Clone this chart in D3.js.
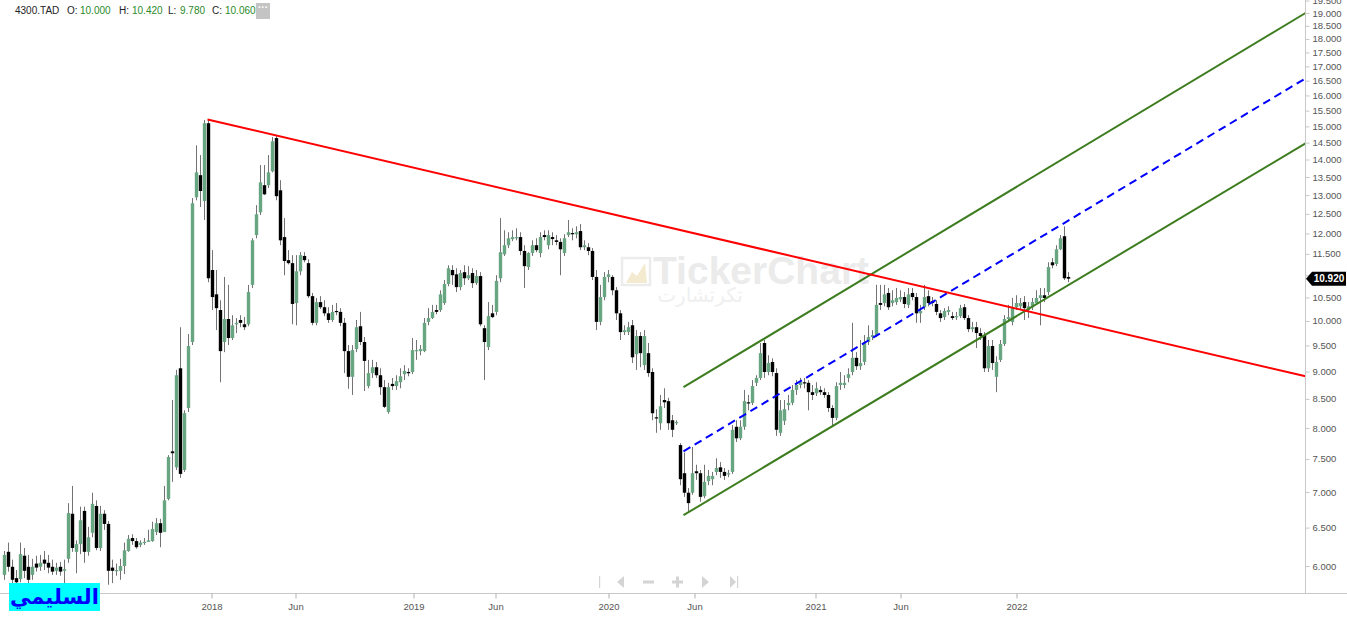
<!DOCTYPE html>
<html><head><meta charset="utf-8">
<script src="https://cdn.jsdelivr.net/npm/d3@7"></script>
<style>
html,body{margin:0;padding:0;background:#fff;overflow:hidden}
svg{display:block;font-family:"Liberation Sans",Arial,sans-serif}
</style></head><body>
<svg id="c" width="1347" height="617"></svg>
<script>
// ---- weekly OHLC, 4300.TAD ----
const open  = [5.89,6.18,5.99,5.85,5.84,6.13,5.99,5.89,6.03,5.99,6.08,6.04,5.99,5.94,5.99,5.94,6.09,6.69,6.18,6.28,6.73,6.18,6.43,6.80,6.23,6.69,6.55,5.98,5.94,5.94,6.00,6.19,6.36,6.32,6.27,6.30,6.31,6.32,6.44,6.56,6.44,6.90,7.62,7.37,9.06,7.33,8.34,9.57,12.94,13.55,12.84,15.10,11.12,10.57,10.23,9.57,10.04,9.65,9.93,10.02,9.93,9.93,10.78,11.96,12.54,13.27,13.27,13.66,14.64,13.13,11.91,11.35,11.28,10.38,11.09,11.45,11.28,10.53,9.96,10.40,10.29,10.16,10.02,10.21,10.19,9.96,9.39,8.90,9.43,9.89,9.57,8.73,8.97,9.08,8.93,8.71,8.27,8.77,8.73,8.80,8.95,8.99,8.99,9.39,9.39,9.39,9.98,10.06,10.23,10.23,10.38,10.80,11.12,11.02,10.73,11.07,10.93,11.05,10.82,10.98,9.85,9.47,10.16,10.19,10.93,11.49,11.71,11.86,11.88,11.91,11.57,11.19,11.52,11.71,11.52,11.96,11.71,11.91,11.83,11.79,11.52,11.96,12.01,11.98,12.06,11.66,11.66,11.57,10.96,9.98,10.51,10.96,10.96,10.66,10.16,9.77,9.77,9.91,9.33,9.69,9.12,9.35,8.99,8.18,8.08,8.48,8.46,8.13,8.08,7.72,7.28,6.99,6.99,7.31,7.28,6.94,7.16,7.19,7.30,7.37,7.30,7.27,7.30,8.02,7.83,8.02,8.44,8.43,8.79,8.88,9.55,8.99,9.18,8.97,7.92,8.12,8.39,8.43,8.66,8.75,8.80,8.79,8.62,8.60,8.66,8.62,8.57,8.34,8.17,8.75,8.75,8.88,8.99,9.26,9.10,9.18,9.57,9.67,9.71,10.38,10.38,10.60,10.38,10.40,10.46,10.51,10.34,10.60,10.51,10.16,10.29,10.53,10.42,10.36,10.16,10.08,10.19,10.10,10.08,10.10,10.29,10.06,9.83,9.87,9.75,9.71,9.06,9.49,8.90,9.22,9.53,10.04,9.98,10.29,10.31,10.40,10.23,10.29,10.38,10.49,10.55,10.62,11.30,11.26,11.61,11.93,10.96];
const high  = [6.19,6.30,6.08,5.95,6.30,6.23,6.14,6.09,6.13,6.14,6.19,6.14,6.08,6.04,6.05,6.08,6.84,7.09,6.33,6.79,6.79,6.51,6.99,6.88,6.80,6.74,6.59,6.08,6.03,6.09,6.30,6.40,6.41,6.36,6.33,6.36,6.47,6.58,6.63,6.62,7.09,7.56,8.48,9.03,9.87,8.30,9.73,12.92,14.42,14.13,15.20,15.23,11.59,11.12,10.44,10.96,10.78,10.12,10.06,10.12,10.08,10.78,11.88,12.73,13.84,13.84,14.13,14.67,14.70,13.41,12.39,11.59,11.47,11.47,11.54,11.54,11.37,10.60,10.49,10.53,10.44,10.29,10.34,10.38,10.27,10.06,9.51,9.51,10.02,10.19,9.67,9.22,9.22,9.18,9.06,8.84,8.79,8.88,8.93,9.06,9.12,9.06,9.65,9.61,9.51,10.06,10.27,10.34,10.34,10.66,10.89,11.23,11.23,11.16,11.12,11.23,11.21,11.16,11.12,11.07,9.91,10.40,10.34,11.00,12.39,12.08,12.03,12.08,12.13,12.03,11.71,11.54,11.83,11.88,12.03,12.08,12.08,12.03,11.96,11.88,11.98,12.34,12.13,12.18,12.24,11.83,11.76,11.64,11.12,10.78,11.07,11.12,11.00,10.73,10.23,9.91,9.98,10.02,9.81,9.77,9.81,9.55,9.06,8.32,8.57,8.69,8.52,8.22,8.13,7.75,7.60,7.06,7.69,7.41,7.33,7.41,7.33,7.30,7.51,7.45,7.36,7.33,8.05,8.13,8.13,8.66,8.57,8.84,8.93,9.55,9.61,9.31,9.25,9.06,8.48,8.48,8.57,8.75,8.84,8.88,8.88,8.84,8.75,8.80,8.73,8.69,8.62,8.39,8.80,8.99,8.93,9.06,9.96,9.37,9.61,9.71,9.91,9.81,10.78,10.78,10.78,10.71,10.66,10.71,10.66,10.62,10.71,10.71,10.60,10.34,10.78,10.66,10.51,10.44,10.23,10.27,10.31,10.19,10.19,10.34,10.36,10.12,9.98,9.98,9.85,9.77,9.61,9.61,9.29,9.61,10.12,10.34,10.49,10.55,10.49,10.53,10.40,10.49,10.66,10.71,10.71,11.30,11.40,11.71,11.96,12.18,11.07];
const low   = [5.83,5.93,5.79,5.73,5.80,5.85,5.77,5.83,5.93,5.94,5.95,5.91,5.89,5.89,5.88,5.71,6.04,6.18,5.91,6.15,6.04,6.13,6.37,6.20,6.19,6.47,5.77,5.79,5.88,5.83,5.90,6.18,6.27,6.22,6.24,6.27,6.31,6.31,6.40,6.24,6.44,6.88,7.15,7.33,7.21,7.30,8.27,9.51,12.86,12.68,12.34,10.84,10.23,9.81,8.80,9.37,9.51,9.61,9.75,9.87,9.81,9.89,10.71,11.88,12.47,13.00,13.19,13.63,12.86,11.71,11.00,11.25,9.93,9.91,11.00,11.30,10.49,9.91,9.91,10.25,10.10,9.96,9.98,10.12,9.89,8.97,8.68,8.57,9.37,9.51,8.64,8.69,8.88,8.88,8.57,8.34,8.24,8.66,8.66,8.69,8.84,8.91,8.95,9.22,9.31,9.37,9.91,10.04,10.14,10.19,10.34,10.75,10.78,10.62,10.66,10.78,10.89,10.71,10.78,9.89,8.84,9.41,10.06,10.12,10.84,11.45,11.64,11.81,11.83,11.47,10.71,11.12,11.45,11.54,11.42,11.83,11.61,11.71,11.71,11.00,11.45,11.91,11.83,11.88,11.59,11.59,11.47,10.89,9.81,9.91,10.44,10.84,10.55,10.02,9.61,9.71,9.71,9.16,9.03,9.08,9.03,8.90,8.13,7.92,7.97,8.34,7.97,7.85,8.05,7.10,6.93,6.71,6.96,7.18,6.86,6.91,7.10,7.10,7.25,7.21,7.18,7.22,7.27,7.77,7.80,7.97,8.30,8.39,8.73,8.84,8.88,8.93,8.91,7.87,7.87,8.05,8.30,8.39,8.57,8.69,8.69,8.30,8.48,8.55,8.57,8.52,8.27,8.03,8.13,8.66,8.69,8.80,8.93,9.03,9.03,9.12,9.51,9.61,9.67,10.23,10.31,10.23,10.31,10.34,10.40,10.27,10.27,10.44,9.96,9.96,10.23,10.31,10.31,10.12,9.98,10.02,10.12,10.02,10.02,10.06,10.02,9.77,9.77,9.45,9.61,8.99,8.99,9.03,8.62,9.18,9.49,9.98,9.91,10.23,10.23,10.02,10.06,10.23,10.34,9.91,10.40,10.55,11.16,11.21,11.59,10.89,10.84];
const close = [6.14,5.99,5.83,5.80,6.15,5.94,5.83,5.99,5.98,6.04,6.03,5.98,5.93,5.98,5.93,5.96,6.70,6.23,6.28,6.60,6.18,6.37,6.83,6.23,6.69,6.55,5.94,5.94,5.95,6.00,6.20,6.35,6.32,6.24,6.30,6.31,6.33,6.48,6.56,6.43,6.88,7.53,7.59,8.93,7.27,8.25,9.49,12.78,13.63,13.11,15.10,10.93,10.51,10.27,9.39,10.04,9.65,9.91,9.96,9.96,9.87,10.62,11.83,12.49,13.35,13.02,13.63,14.54,12.97,11.83,11.33,11.28,10.36,11.09,11.47,11.35,10.53,9.96,10.40,10.29,10.16,10.02,10.19,10.19,9.96,9.39,8.90,9.41,9.87,9.57,9.20,8.97,9.08,8.93,8.71,8.36,8.71,8.73,8.82,8.91,9.01,8.97,9.41,9.41,9.43,9.96,10.06,10.19,10.19,10.57,10.80,11.16,11.00,10.73,11.05,10.93,11.00,10.82,10.98,9.93,9.57,10.10,10.08,10.87,11.54,11.71,11.88,11.91,11.91,11.57,11.21,11.52,11.71,11.59,11.91,11.91,11.96,11.86,11.79,11.61,11.88,12.03,11.98,12.03,11.66,11.71,11.57,10.96,9.98,10.51,10.96,11.02,10.66,10.16,9.77,9.81,9.87,9.27,9.69,9.35,9.69,8.97,8.25,8.17,8.37,8.44,8.08,7.97,8.10,7.19,6.99,6.84,7.28,7.28,6.93,7.15,7.24,7.24,7.36,7.30,7.24,7.28,7.97,7.83,8.02,8.46,8.43,8.73,8.88,9.35,8.99,9.16,8.99,7.97,8.30,8.32,8.43,8.66,8.75,8.80,8.79,8.62,8.57,8.69,8.62,8.57,8.34,8.17,8.73,8.79,8.79,8.95,9.26,9.10,9.16,9.57,9.67,9.71,10.34,10.34,10.57,10.29,10.44,10.49,10.51,10.36,10.57,10.51,10.16,10.21,10.51,10.38,10.38,10.19,10.06,10.21,10.23,10.06,10.10,10.27,10.06,9.83,9.87,9.75,9.69,9.06,9.49,9.16,9.18,9.53,10.04,10.08,10.27,10.38,10.38,10.27,10.31,10.40,10.49,10.55,10.49,11.19,11.23,11.61,11.88,10.93,10.92];

// price axis ticks and time axis labels (bar index positions)
const priceTicks = [6.0,6.5,7.0,7.5,8.0,8.5,9.0,9.5,10.0,10.5,11.0,11.5,12.0,12.5,13.0,13.5,14.0,14.5,15.0,15.5,16.0,16.5,17.0,17.5,18.0,18.5,19.0,19.5];
const timeTickLabels = ["2018","Jun","2019","Jun","2020","Jun","2021","Jun","2022"];
const timeTickIndex  = [51.75,72.75,102.25,122.75,151,172.5,202.75,224,253];
const lastPrice = 10.92;

// drawn trend lines: [bar index, price]
const redLine    = [[50.75,15.22],[325.25,8.91]];
const upperGreen = [[169.75,8.71],[325.25,19.0]];
const lowerGreen = [[169.75,6.67],[325.25,14.48]];
const midBlue    = [[169.75,7.62],[325.25,16.58]];

// header (symbol + hovered bar)
const symbol = "4300.TAD";
const hoverLabels = ["O:","H:","L:","C:"];
const hoverValues = ["10.000","10.420","9.780","10.060"];

const svg = d3.select("#c");
const W = 1347, H = 617, axisX = 1305.5, axisY = 593.5;

const x = d3.scaleLinear().domain([0, 325.25]).range([4.5, axisX]);
const y = d3.scaleLog().domain([6, 19]).range([566, 13]);

svg.append("rect").attr("width", W).attr("height", H).attr("fill", "#fff");

svg.append("defs").append("clipPath").attr("id", "plot")
  .append("rect").attr("x", 0).attr("y", 0).attr("width", axisX).attr("height", axisY);

// watermark
const wm = svg.append("g");
wm.append("rect").attr("x", 622).attr("y", 258).attr("width", 28).attr("height", 27)
  .attr("fill", "none").attr("stroke", "#ececec").attr("stroke-width", 2.5);
wm.append("path").attr("d", "M626,283 L632,272 L637,276 L645,263 L647,283 Z").attr("fill", "#f4ead0");
wm.append("text").attr("x", 653).attr("y", 284).attr("font-size", 39).attr("font-weight", "bold")
  .attr("fill", "#ebebeb").text("TickerChart");
wm.append("text").attr("x", 700).attr("y", 302).attr("font-size", 20).attr("text-anchor", "middle")
  .attr("font-family", "DejaVu Sans").attr("fill", "#efefef").text("تكرتشارت");

// candles
const bars = d3.range(open.length).map(i => ({i, o: open[i], h: high[i], l: low[i], c: close[i]}));
const plot = svg.append("g").attr("clip-path", "url(#plot)");
const cg = plot.append("g");
cg.selectAll("line.wick").data(bars).join("line").attr("class", "wick")
  .attr("x1", d => x(d.i)).attr("x2", d => x(d.i))
  .attr("y1", d => y(d.h)).attr("y2", d => y(d.l))
  .attr("stroke", "#737373").attr("stroke-width", 1);
cg.selectAll("rect.body").data(bars).join("rect").attr("class", "body")
  .attr("x", d => x(d.i) - 1.7).attr("width", 3.4)
  .attr("y", d => y(Math.max(d.o, d.c)))
  .attr("height", d => Math.max(1.2, Math.abs(y(d.o) - y(d.c))))
  .attr("fill", d => d.c >= d.o ? "#68a682" : "#000");

// trend lines
const ln = d3.line().x(d => x(d[0])).y(d => y(d[1]));
plot.append("path").attr("d", ln(upperGreen)).attr("fill", "none").attr("stroke", "#3d7c1f").attr("stroke-width", 2);
plot.append("path").attr("d", ln(lowerGreen)).attr("fill", "none").attr("stroke", "#3d7c1f").attr("stroke-width", 2);
plot.append("path").attr("d", ln(midBlue)).attr("fill", "none").attr("stroke", "#0000ff").attr("stroke-width", 2)
  .attr("stroke-dasharray", "8,5");
plot.append("path").attr("d", ln(redLine)).attr("fill", "none").attr("stroke", "#ff0000").attr("stroke-width", 2);

// right price axis
const ya = svg.append("g").attr("transform", `translate(${axisX},0)`)
  .call(d3.axisRight(y).tickValues(priceTicks).tickFormat(d3.format(".3f")).tickSize(4).tickSizeOuter(0));
ya.select(".domain").remove();
ya.selectAll(".tick line").attr("stroke", "#c8c8c8");
ya.selectAll(".tick text").attr("fill", "#555").attr("font-size", 9.5)
  .attr("font-family", "Liberation Sans, Arial, sans-serif").attr("x", 7);
svg.append("line").attr("x1", axisX).attr("x2", axisX).attr("y1", 0).attr("y2", axisY)
  .attr("stroke", "#c8c8c8");

// bottom time axis
svg.append("line").attr("x1", 0).attr("x2", W).attr("y1", axisY).attr("y2", axisY).attr("stroke", "#c8c8c8");
const xa = svg.append("g").attr("transform", `translate(0,${axisY})`)
  .call(d3.axisBottom(x).tickValues(timeTickIndex).tickFormat((d, k) => timeTickLabels[k]).tickSize(5).tickSizeOuter(0));
xa.select(".domain").remove();
xa.selectAll(".tick line").attr("stroke", "#b0b0b0");
xa.selectAll(".tick text").attr("fill", "#555").attr("font-size", 9.5).attr("y", 10)
  .attr("font-family", "Liberation Sans, Arial, sans-serif");

// last price tag
const ty = y(lastPrice);
svg.append("path").attr("d", `M1306,${ty} L1312,${ty-7} L1346,${ty-7} L1346,${ty+7} L1312,${ty+7} Z`).attr("fill", "#000");
svg.append("text").attr("x", 1329).attr("y", ty + 3.5).attr("text-anchor", "middle")
  .attr("fill", "#fff").attr("font-size", 10).attr("font-weight", "bold").text(d3.format(".3f")(lastPrice));

// navigation controls
const nav = svg.append("g").attr("fill", "#d4d4d4");
nav.append("rect").attr("x", 599).attr("y", 576).attr("width", 1.2).attr("height", 12);
nav.append("path").attr("d", "M624,576 L617,582 L624,588 Z");
nav.append("rect").attr("x", 643).attr("y", 580.5).attr("width", 11).attr("height", 3);
nav.append("rect").attr("x", 672).attr("y", 580.5).attr("width", 11).attr("height", 3);
nav.append("rect").attr("x", 676).attr("y", 576.5).attr("width", 3).attr("height", 11);
nav.append("path").attr("d", "M702,576 L709,582 L702,588 Z");
nav.append("path").attr("d", "M730,576 L736,582 L730,588 Z");
nav.append("rect").attr("x", 737).attr("y", 576).attr("width", 1.2).attr("height", 12);

// header
const hd = svg.append("g").attr("font-size", 10);
hd.append("text").attr("x", 15).attr("y", 14).attr("fill", "#222").text(symbol);
const lx = [67, 119, 168, 212];
const vx = [80, 132, 180, 225];
hoverLabels.forEach((t, k) => {
  hd.append("text").attr("x", lx[k]).attr("y", 14).attr("fill", "#222").text(t);
  hd.append("text").attr("x", vx[k]).attr("y", 14).attr("fill", "#2a8a2a").text(hoverValues[k]);
});
hd.append("rect").attr("x", 256).attr("y", 3).attr("width", 14).attr("height", 16).attr("fill", "#c4c4c4");
hd.append("text").attr("x", 263).attr("y", 11).attr("text-anchor", "middle").attr("fill", "#fff")
  .attr("font-size", 10).attr("font-weight", "bold").text("···");

// author badge
svg.append("rect").attr("x", 9).attr("y", 583).attr("width", 91).attr("height", 28).attr("fill", "#00ffff");
svg.append("text").attr("x", 54.5).attr("y", 604).attr("text-anchor", "middle")
  .attr("font-family", "DejaVu Sans").attr("font-weight", "bold").attr("font-size", 21)
  .attr("fill", "#0000ff").text("السليمي");
</script>
</body></html>
